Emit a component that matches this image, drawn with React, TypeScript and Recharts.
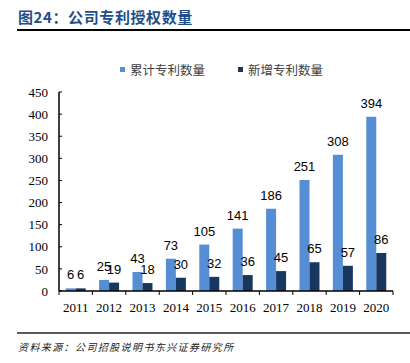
import { BarChart, Bar, XAxis, YAxis, Legend, LabelList } from "recharts";

document.body.style.margin = "0";

const years = ["2011", "2012", "2013", "2014", "2015", "2016", "2017", "2018", "2019", "2020"];
const cumulative = [6, 25, 43, 73, 105, 141, 186, 251, 308, 394];
const added = [6, 19, 18, 30, 32, 36, 45, 65, 57, 86];
const yTicks = [0, 50, 100, 150, 200, 250, 300, 350, 400, 450];

const seriesNames = { cum: "累计专利数量", add: "新增专利数量" };
const BLUE = "#558ED5";
const NAVY = "#17375E";

const data = years.map((y, i) => ({ year: y, cum: cumulative[i], add: added[i] }));

const W = 410;
const H = 363;
const PLOT_LEFT = 59;
const PLOT_RIGHT = 17;
const BAND = (W - PLOT_LEFT - PLOT_RIGHT) / years.length;

// x 轴刻度线画在类别边界上
const XTick = (props: any) => {
  const { x, y, payload, index } = props;
  const left = x - BAND / 2;
  return (
    <g>
      <line x1={left} x2={left} y1={y} y2={y + 4} stroke="#000" strokeWidth={1} />
      {index === years.length - 1 && (
        <line x1={x + BAND / 2} x2={x + BAND / 2} y1={y} y2={y + 4} stroke="#000" strokeWidth={1} />
      )}
      <text
        x={x}
        y={y + 21}
        textAnchor="middle"
        fontFamily="'Liberation Serif', 'Times New Roman', serif"
        fontSize={13}
        fill="#000"
      >
        {payload.value}
      </text>
    </g>
  );
};

const LegendBox = () => (
  <div style={{ position: "relative", height: 16, fontFamily: "'Noto Sans CJK SC', sans-serif", fontSize: 12.5, color: "#404040" }}>
    {[
      { name: seriesNames.cum, color: BLUE, left: 120 },
      { name: seriesNames.add, color: NAVY, left: 238 }
    ].map((it) => (
      <div key={it.name} style={{ position: "absolute", left: it.left, top: 0, display: "flex", alignItems: "center", whiteSpace: "nowrap" }}>
        <span style={{ display: "inline-block", width: 5, height: 5, background: it.color, marginRight: 5 }} />
        <span>{it.name}</span>
      </div>
    ))}
  </div>
);

const labelStyle = { fontFamily: "'Liberation Sans', Arial, sans-serif", fontSize: 13, fill: "#000" };

export default function App() {
  return (
    <div style={{ position: "relative", width: W, height: H, background: "#fff", overflow: "hidden" }}>
      <div
        style={{
          position: "absolute",
          left: 18,
          top: 7,
          fontFamily: "'Noto Sans CJK SC', sans-serif",
          fontWeight: 700,
          fontSize: 15,
          color: "#1F4E89",
          letterSpacing: 0.6,
          whiteSpace: "nowrap",
          lineHeight: "20px"
        }}
      >
        图24：公司专利授权数量
      </div>
      <div style={{ position: "absolute", left: 17, right: 0, top: 29, height: 2, background: "#000" }} />

      <BarChart
        width={W}
        height={H}
        data={data}
        margin={{ top: 76, right: PLOT_RIGHT, left: 0, bottom: 42 }}
        barCategoryGap="20%"
        barGap={0}
      >
        <Legend content={<LegendBox />} verticalAlign="top" wrapperStyle={{ position: "absolute", top: 60, left: 0, width: W }} />
        <YAxis
          width={PLOT_LEFT}
          domain={[0, 450]}
          ticks={yTicks}
          interval={0}
          axisLine={{ stroke: "#000", strokeWidth: 1.5 }}
          tickLine={{ stroke: "#000" }}
          tickSize={-3}
          tickMargin={14}
          tick={{ fontFamily: "'Liberation Serif', 'Times New Roman', serif", fontSize: 13, fill: "#000" }}
        />
        <XAxis
          dataKey="year"
          height={30}
          interval={0}
          axisLine={{ stroke: "#000", strokeWidth: 1.5 }}
          tickLine={false}
          tickSize={0}
          tickMargin={0}
          tick={<XTick />}
        />
        <Bar dataKey="cum" name={seriesNames.cum} fill={BLUE} isAnimationActive={false}>
          <LabelList dataKey="cum" position="top" offset={9} style={labelStyle} />
        </Bar>
        <Bar dataKey="add" name={seriesNames.add} fill={NAVY} isAnimationActive={false}>
          <LabelList dataKey="add" position="top" offset={9} style={labelStyle} />
        </Bar>
      </BarChart>

      <div style={{ position: "absolute", left: 17, right: 0, top: 332, height: 2, background: "#5a5a5a" }} />
      <div
        style={{
          position: "absolute",
          left: 18,
          top: 340,
          fontFamily: "'Noto Sans CJK SC', sans-serif",
          fontStyle: "italic",
          fontSize: 10,
          letterSpacing: 1.4,
          color: "#222",
          whiteSpace: "nowrap",
          lineHeight: "14px"
        }}
      >
        资料来源：公司招股说明书东兴证券研究所
      </div>
    </div>
  );
}
